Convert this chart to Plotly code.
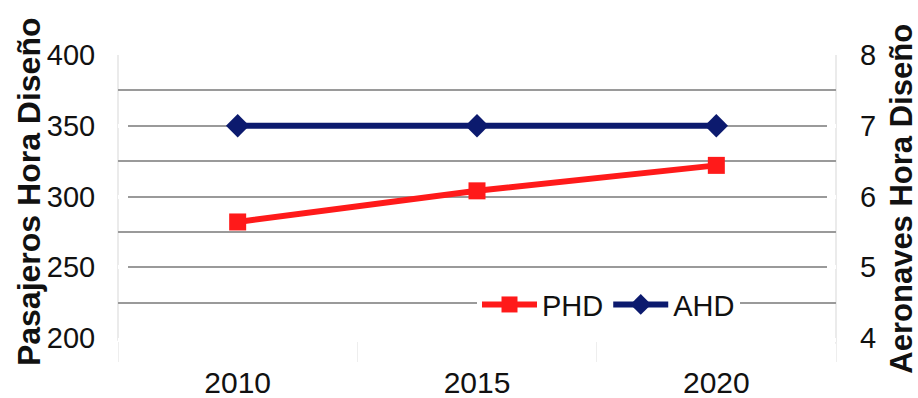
import plotly.graph_objects as go

# Design-hour demand by horizon year
years = ["2010", "2015", "2020"]
phd = [282, 304, 322]   # Pasajeros Hora Diseño (left axis)
ahd = [7, 7, 7]         # Aeronaves Hora Diseño (right axis)

FONT = "Liberation Sans, Arial, sans-serif"
RED = "#ff1a1a"
NAVY = "#0c1a6e"
GRID = "#9a9a9a"
INK = "#111111"
CLEAR = "rgba(0,0,0,0)"

fig = go.Figure()
fig.add_trace(go.Scatter(
    x=years, y=phd, name="PHD", mode="lines+markers",
    line=dict(color=RED, width=6),
    marker=dict(symbol="square", size=17, color=RED),
    yaxis="y",
))
fig.add_trace(go.Scatter(
    x=years, y=ahd, name="AHD", mode="lines+markers",
    line=dict(color=NAVY, width=6),
    marker=dict(symbol="diamond", size=18, color=NAVY),
    yaxis="y2",
))

fig.update_layout(
    width=918, height=398,
    margin=dict(l=118, r=82, t=55, b=60, autoexpand=False),
    paper_bgcolor="white", plot_bgcolor="white",
    font=dict(family=FONT, size=28, color=INK),
    showlegend=True,
    legend=dict(
        orientation="h", x=0.5, xanchor="left", y=0.118, yanchor="middle",
        bgcolor="white", font=dict(family=FONT, size=29, color=INK),
        itemwidth=55, tracegroupgap=0,
    ),
    xaxis=dict(
        type="category", range=[-0.5, 2.5], automargin=False,
        showgrid=False, zeroline=False,
        showline=True, linecolor="white", linewidth=4,
        ticks="outside", tickson="boundaries", ticklen=20,
        tickcolor="#eeeeee", tickwidth=1,
        ticklabelstandoff=15,
        tickfont=dict(family=FONT, size=30, color=INK),
    ),
    yaxis=dict(
        range=[200, 400], dtick=50, tick0=200, automargin=False,
        showgrid=True, gridcolor=GRID, gridwidth=1.5,
        minor=dict(dtick=25, showgrid=True, gridcolor=GRID, gridwidth=1.5),
        zeroline=False, showline=False,
        ticks="outside", ticklen=16, tickcolor=CLEAR,
        tickfont=dict(family=FONT, size=29, color=INK),
    ),
    # left-side companion axis: short white inside ticks break the
    # labelled gridlines where they meet the plot edge
    yaxis3=dict(
        range=[200, 400], dtick=50, tick0=200, overlaying="y", side="left",
        automargin=False, showgrid=False, zeroline=False, showline=False,
        showticklabels=False,
        ticks="inside", ticklen=10, tickcolor="white", tickwidth=4,
    ),
    yaxis2=dict(
        range=[4, 8], dtick=1, tick0=4, overlaying="y", side="right",
        automargin=False,
        showgrid=False, zeroline=False, showline=False,
        ticks="inside", ticklen=9, tickcolor="white", tickwidth=4,
        ticklabelstandoff=23,
        tickfont=dict(family=FONT, size=29, color=INK),
    ),
    annotations=[
        dict(text="<b>Pasajeros Hora Diseño</b>", textangle=-90,
             xref="paper", yref="paper", x=-0.124, y=0.519,
             xanchor="center", yanchor="middle", showarrow=False,
             font=dict(family=FONT, size=32, color=INK)),
        dict(text="<b>Aeronaves Hora Diseño</b>", textangle=-90,
             xref="paper", yref="paper", x=1.09, y=0.491,
             xanchor="center", yanchor="middle", showarrow=False,
             font=dict(family=FONT, size=31, color=INK)),
    ],
    shapes=[
        dict(type="line", xref="paper", yref="paper", x0=0, x1=0, y0=-0.01, y1=1.0,
             line=dict(color="#e4e4e4", width=1.5), layer="below"),
        dict(type="line", xref="paper", yref="paper", x0=1, x1=1, y0=-0.02, y1=1.0,
             line=dict(color="#e4e4e4", width=1.5), layer="below"),
    ],
)

# an invisible trace keeps the companion axis active
fig.add_trace(go.Scatter(x=[years[0]], y=[phd[0]], yaxis="y3", mode="markers",
                         marker=dict(opacity=0), showlegend=False, hoverinfo="skip"))

fig.write_html("out.html")
